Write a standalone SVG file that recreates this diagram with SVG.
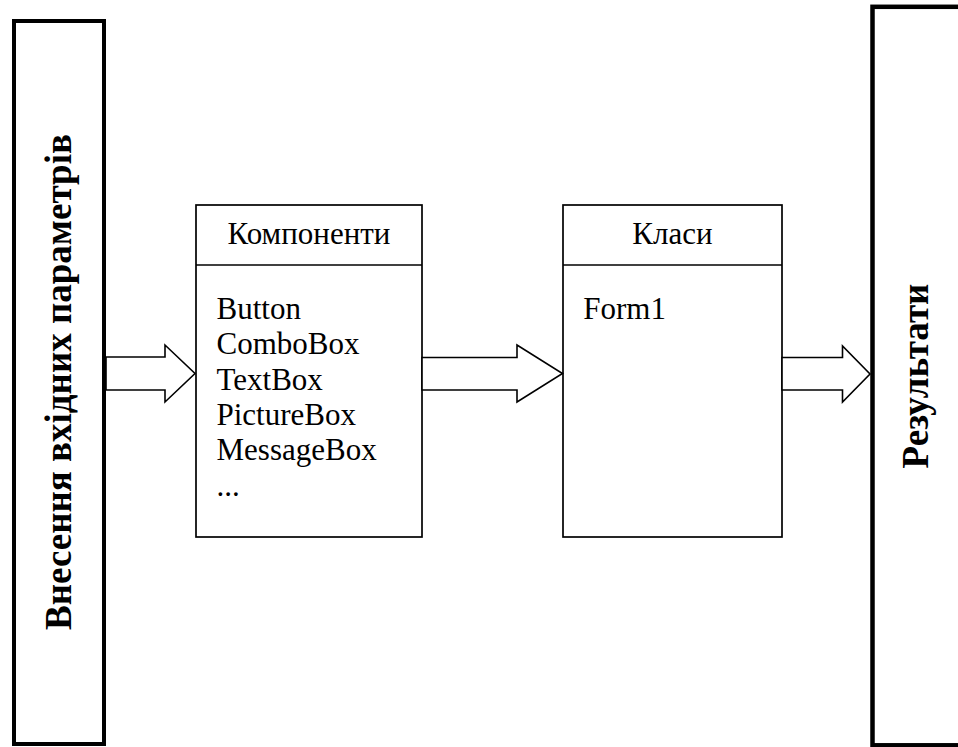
<svg xmlns="http://www.w3.org/2000/svg" width="958" height="747" viewBox="0 0 958 747">
<style>
.t{font-family:"Liberation Serif","Times New Roman",serif;font-size:31px;fill:#000}
.b{font-family:"Liberation Serif","Times New Roman",serif;font-size:37px;font-weight:bold;fill:#000}
.box{fill:#fff;stroke:#000;stroke-width:1.7}
.big{fill:#fff;stroke:#000}
.arr{fill:#fff;stroke:#000;stroke-width:1.6;stroke-linejoin:miter}
</style>
<rect width="958" height="747" fill="#fff"/>
<g id="input">
<rect class="big" x="14" y="21" width="90" height="723" stroke-width="4"/>
<text class="b" text-anchor="middle" transform="translate(71,382) rotate(-90)">Внесення вхідних параметрів</text>
</g>
<g id="results">
<rect class="big" x="872.5" y="6.8" width="100" height="738.5" stroke-width="4.5"/>
<text class="b" text-anchor="middle" transform="translate(928,376) rotate(-90)">Результати</text>
</g>
<g id="components">
<rect class="box" x="196" y="205" width="226" height="332"/>
<line class="box" x1="196" y1="265" x2="422" y2="265"/>
<text class="t" x="309" y="244" text-anchor="middle">Компоненти</text>
<text class="t" x="216.5" y="319">Button</text>
<text class="t" x="216.5" y="354.3">ComboBox</text>
<text class="t" x="216.5" y="389.6">TextBox</text>
<text class="t" x="216.5" y="425">PictureBox</text>
<text class="t" x="216.5" y="460.3">MessageBox</text>
<text class="t" x="216.5" y="495.6">...</text>
</g>
<g id="classes">
<rect class="box" x="563" y="205" width="219" height="332"/>
<line class="box" x1="563" y1="265" x2="782" y2="265"/>
<text class="t" x="672.5" y="244" text-anchor="middle">Класи</text>
<text class="t" x="583.3" y="319">Form1</text>
</g>
<g id="connectors">
<polygon class="arr" points="106,357 165,357 165,345 195,373.5 165,402 165,390 106,390"/>
<polygon class="arr" points="422,357.5 517,357.5 517,345 562.5,373.5 517,402 517,390 422,390"/>
<polygon class="arr" points="782,357.5 842.5,357.5 842.5,346 870,374 842.5,402 842.5,390 782,390"/>
</g>
</svg>
